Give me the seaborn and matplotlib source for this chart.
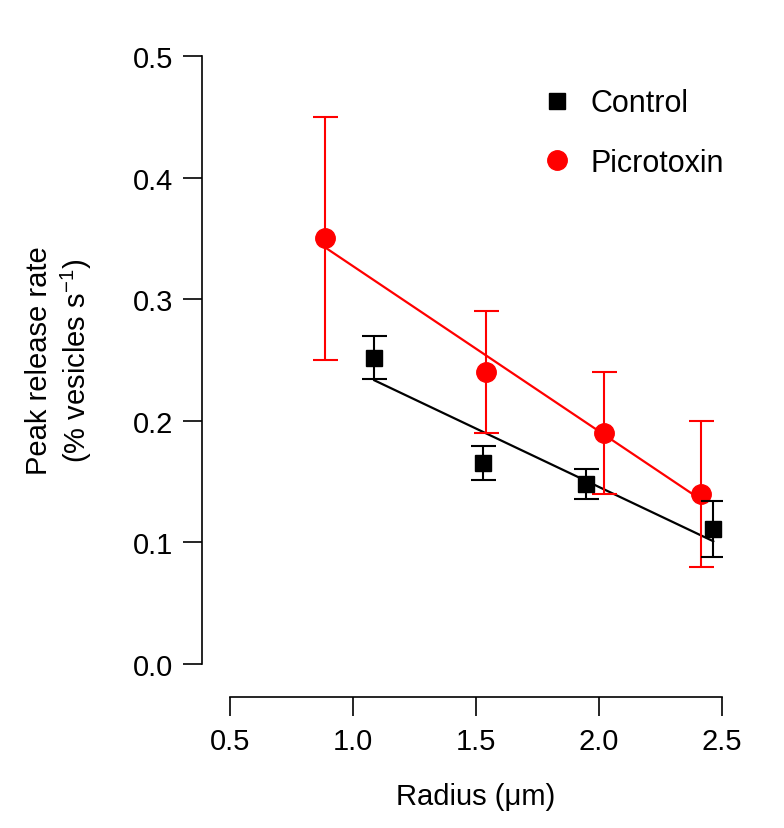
import numpy as np
import pandas as pd
import matplotlib
matplotlib.use("Agg")
import matplotlib.pyplot as plt
import seaborn as sns

# Control
ctrl_radius = [1.085, 1.53, 1.945, 2.465]
ctrl_rate = [0.252, 0.165, 0.148, 0.111]
ctrl_err = [0.018, 0.014, 0.012, 0.023]

# Picrotoxin
ptx_radius = [0.888, 1.54, 2.02, 2.415]
ptx_rate = [0.350, 0.240, 0.190, 0.140]
ptx_err = [0.100, 0.050, 0.050, 0.060]

x_ticks = [0.5, 1.0, 1.5, 2.0, 2.5]
y_ticks = [0.0, 0.1, 0.2, 0.3, 0.4, 0.5]

sns.set_theme(style="ticks")
plt.rcParams['font.family'] = ['Liberation Sans', 'DejaVu Sans']
plt.rcParams['text.color'] = 'black'
plt.rcParams['axes.labelcolor'] = 'black'
plt.rcParams['xtick.color'] = 'black'
plt.rcParams['ytick.color'] = 'black'
plt.rcParams['mathtext.default'] = 'regular'

ctrl = pd.DataFrame({"radius": ctrl_radius, "rate": ctrl_rate, "err": ctrl_err})
ptx = pd.DataFrame({"radius": ptx_radius, "rate": ptx_rate, "err": ptx_err})

fig = plt.figure(figsize=(7.84, 8.29), dpi=100)
ax = fig.add_axes([0.2934, 0.1978, 0.6276, 0.7334])

# linear fits
sns.regplot(data=ptx, x="radius", y="rate", ax=ax, scatter=False, ci=None,
            color="#ff0000", line_kws={"lw": 1.6})
sns.regplot(data=ctrl, x="radius", y="rate", ax=ax, scatter=False, ci=None,
            color="black", line_kws={"lw": 1.6})

# points with error bars
ax.errorbar(ptx["radius"], ptx["rate"], yerr=ptx["err"], fmt="o", color="#ff0000",
            ms=14, elinewidth=1.5, capsize=9, capthick=1.5, label="Picrotoxin", zorder=3)
ax.errorbar(ctrl["radius"], ctrl["rate"], yerr=ctrl["err"], fmt="s", color="black",
            ms=12, elinewidth=1.5, capsize=9, capthick=1.5, label="Control", zorder=4)

ax.set_xlim(0.5, 2.5)
ax.set_ylim(0.0, 0.5)
ax.set_xticks(x_ticks)
ax.set_yticks(y_ticks)
ax.set_xticklabels([f"{v:.1f}" for v in x_ticks])
ax.set_yticklabels([f"{v:.1f}" for v in y_ticks])
ax.tick_params(axis="both", labelsize=21, length=14, width=1.2, pad=7, color="black")

sns.despine(ax=ax)
ax.spines["left"].set_position(("outward", 20))
ax.spines["bottom"].set_position(("outward", 24))
for s in ["left", "bottom"]:
    ax.spines[s].set_linewidth(1.2)
    ax.spines[s].set_color("black")

ax.set_xlabel("Radius (\u03bcm)", fontsize=21, labelpad=20)
ax.set_ylabel("Peak release rate\n(% vesicles s$^{-1}$)", fontsize=21, labelpad=28)

h, l = ax.get_legend_handles_labels()
order = [l.index("Control"), l.index("Picrotoxin")]
leg = ax.legend([h[i][0] for i in order], [l[i] for i in order], loc="upper left",
                frameon=False, fontsize=22, labelspacing=0.96, handletextpad=0.6,
                handlelength=1.0, borderpad=0.4, bbox_to_anchor=(0.577, 0.992))

fig.savefig("out.png", dpi=100)
